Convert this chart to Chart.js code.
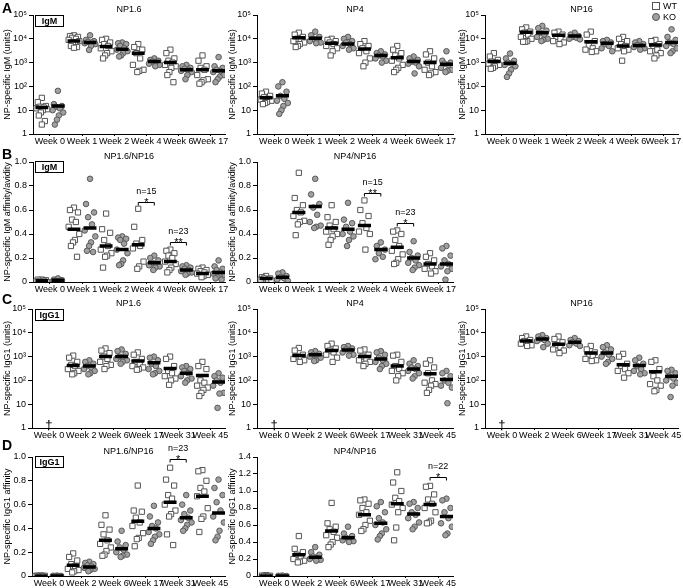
<!DOCTYPE html>
<html lang="en">
<head>
<meta charset="UTF-8">
<title>NP-specific IgM / IgG1</title>
<style>
    body { margin: 0; width: 683px; height: 588px; overflow: hidden; background: #fff; position: relative;
           font-family: "Liberation Sans", Arial, sans-serif; }
    canvas { position: absolute; }
    .letter { position: absolute; font-weight: bold; font-size: 14px; }
    .tag { position: absolute; border: 1px solid #000; font-weight: bold; font-size: 9px;
           width: 27px; height: 10px; line-height: 10px; text-align: center; }
    .leg { position: absolute; font-size: 9px; line-height: 9px; }
    .sq { position: absolute; width: 6px; height: 6px; border: 1px solid #555; background: #fff; }
    .ci { position: absolute; width: 6px; height: 6px; border: 1px solid #555; background: #a0a0a0; border-radius: 50%; }
</style>
<script src="https://cdn.jsdelivr.net/npm/chart.js"></script>
</head>
<body>
<div class="letter" style="left:2px;top:0px">A</div>
<div class="letter" style="left:2px;top:146px">B</div>
<div class="letter" style="left:2px;top:291px">C</div>
<div class="letter" style="left:2px;top:437px">D</div>
<div class="tag" style="left:35px;top:15px">IgM</div>
<div class="tag" style="left:35px;top:161px">IgM</div>
<div class="tag" style="left:35px;top:309px">IgG1</div>
<div class="tag" style="left:35px;top:456px">IgG1</div>
<div class="sq" style="left:652px;top:2px"></div><div class="leg" style="left:663px;top:2px">WT</div>
<div class="ci" style="left:652px;top:13px"></div><div class="leg" style="left:663px;top:13px">KO</div>

<script>
// week labels
const weeksIgM = ['Week 0', 'Week 1', 'Week 2', 'Week 4', 'Week 6', 'Week 17'];
const weeksIgG1 = ['Week 0', 'Week 2', 'Week 6', 'Week 17', 'Week 31', 'Week 45'];

// A - IgM NP1.6 (units)
const a1Wt = [[33, 22, 15, 14, 13, 12, 11, 10, 8, 6, 3.5, 2.5], [14000, 13000, 12000, 11000, 10000, 9000, 8000, 7000, 6000, 5000, 4500, 4200], [10000, 9000, 7000, 6000, 5000, 4000, 3000, 2500, 2000, 1500], [6000, 4500, 3500, 2500, 1500, 800, 500, 450, 400], [3500, 2500, 1500, 1200, 1000, 800, 700, 600, 400, 300, 150], [2000, 1200, 700, 600, 500, 300, 200, 180, 150, 130]];
const a1Ko = [[65, 18, 15, 14, 12, 10, 8, 6, 4, 2.5], [14000, 9000, 8000, 7500, 7000, 6500, 6000, 5000, 3400], [7000, 6500, 6000, 5000, 4000, 3500, 3000, 2500, 2000, 1800], [1500, 1300, 1200, 1100, 1000, 900, 800, 700], [800, 700, 600, 550, 500, 450, 400, 300, 200], [1700, 700, 600, 500, 450, 400, 300, 250, 200, 150]];
const a1WtMed = [13, 8000, 4700, 2500, 1000, 500];
const a1KoMed = [15, 7000, 3600, 1100, 500, 450];

// A - IgM NP4
const a2Wt = [[60, 50, 40, 35, 30, 28, 25, 22, 20, 18], [18000, 15000, 12000, 10000, 9000, 8000, 7000, 6000, 5000, 4500], [10000, 9000, 8000, 7000, 6000, 5000, 4000, 3000, 2000], [8000, 6000, 5000, 4000, 3000, 2500, 1500, 1000, 700], [5000, 3500, 2500, 2000, 1500, 1200, 800, 600, 500, 400], [3000, 2200, 1500, 1000, 700, 500, 400, 350, 300]];
const a2Ko = [[150, 100, 60, 40, 30, 25, 20, 15, 10, 7], [20000, 14000, 12000, 10000, 9000, 8000, 7000, 6500], [12000, 10000, 8000, 7000, 6000, 5000, 4000, 3500], [3000, 2500, 2200, 2000, 1800, 1500, 1200, 1000], [1800, 1500, 1300, 1100, 1000, 900, 700, 350], [3000, 1200, 1000, 900, 800, 600, 500, 450, 400]];
const a2WtMed = [33, 11000, 6500, 3700, 1600, 1000];
const a2KoMed = [40, 10500, 6000, 2000, 1100, 850];

// A - IgM NP16
const a3Wt = [[2500, 1800, 1300, 1100, 1000, 900, 800, 700, 600, 550], [30000, 25000, 20000, 18000, 15000, 12000, 10000, 8000, 7500, 7500], [20000, 18000, 15000, 12000, 10000, 8000, 7000, 6000], [20000, 15000, 8000, 5000, 4000, 3500, 3000, 2800], [12000, 10000, 8000, 6000, 5000, 4000, 3500, 3000, 1200], [9000, 8000, 6000, 5000, 3500, 3000, 2500, 2000, 1500]];
const a3Ko = [[2400, 1500, 1200, 1000, 900, 800, 700, 500, 350, 250], [35000, 28000, 22000, 18000, 15000, 12000, 10000, 9000, 8000], [18000, 15000, 13000, 12000, 11000, 10000, 9500], [9000, 8000, 7000, 6000, 5000, 4000, 3000], [8000, 7000, 6000, 5500, 5000, 4500, 4000, 3500], [25000, 12000, 9000, 7000, 6000, 5000, 4000, 3000, 2500]];
const a3WtMed = [1100, 19000, 14000, 7500, 5000, 5500];
const a3KoMed = [950, 18000, 13000, 6500, 5200, 7000];

// B - IgM affinity NP1.6/NP16
const b1Wt = [[0.02, 0.02, 0.015, 0.01, 0.01, 0.005, 0, 0], [0.62, 0.60, 0.58, 0.52, 0.50, 0.46, 0.40, 0.35, 0.33, 0.30, 0.21], [0.57, 0.44, 0.41, 0.35, 0.30, 0.27, 0.24, 0.22, 0.21, 0.12], [0.61, 0.46, 0.35, 0.32, 0.30, 0.28, 0.17, 0.13, 0.11], [0.27, 0.26, 0.24, 0.22, 0.20, 0.17, 0.15, 0.12, 0.10, 0.08], [0.12, 0.11, 0.10, 0.09, 0.08, 0.07, 0.06, 0.05, 0.04]];
const b1Ko = [[0.03, 0.02, 0.015, 0.01, 0.01, 0.005], [0.86, 0.65, 0.58, 0.54, 0.48, 0.43, 0.38, 0.33, 0.30, 0.26, 0.25], [0.38, 0.37, 0.36, 0.35, 0.32, 0.27, 0.24, 0.18, 0.15, 0.14], [0.22, 0.20, 0.18, 0.16, 0.15, 0.14, 0.13, 0.12, 0.10], [0.14, 0.13, 0.12, 0.11, 0.10, 0.09, 0.08, 0.07, 0.06], [0.18, 0.13, 0.11, 0.10, 0.08, 0.07, 0.06, 0.05, 0.04, 0.03, 0.02]];
const b1WtMed = [0.01, 0.44, 0.30, 0.31, 0.17, 0.07];
const b1KoMed = [0.015, 0.45, 0.27, 0.16, 0.10, 0.08];
const b1Sig = [{ week: 3, y: 0.67, n: 'n=15', stars: '*' }, { week: 4, y: 0.335, n: 'n=23', stars: '**' }];

// B - IgM affinity NP4/NP16
const b2Wt = [[0.05, 0.04, 0.03, 0.03, 0.02, 0.02, 0.01], [0.91, 0.70, 0.64, 0.60, 0.58, 0.55, 0.51, 0.50, 0.48, 0.39], [0.64, 0.54, 0.50, 0.47, 0.44, 0.42, 0.40, 0.38, 0.35, 0.31], [0.68, 0.60, 0.55, 0.49, 0.45, 0.42, 0.40, 0.27], [0.43, 0.42, 0.40, 0.35, 0.30, 0.26, 0.23, 0.19, 0.16, 0.15], [0.24, 0.21, 0.18, 0.15, 0.13, 0.11, 0.09, 0.07]];
const b2Ko = [[0.08, 0.07, 0.05, 0.04, 0.03, 0.02, 0.01], [0.86, 0.73, 0.65, 0.62, 0.56, 0.50, 0.47, 0.46, 0.45], [0.66, 0.52, 0.49, 0.46, 0.42, 0.40, 0.38, 0.35, 0.30], [0.33, 0.30, 0.27, 0.24, 0.21, 0.19], [0.34, 0.25, 0.22, 0.20, 0.18, 0.16, 0.14, 0.12, 0.10], [0.30, 0.28, 0.22, 0.18, 0.15, 0.13, 0.11, 0.09, 0.02]];
const b2WtMed = [0.03, 0.58, 0.45, 0.47, 0.29, 0.15];
const b2KoMed = [0.04, 0.63, 0.44, 0.27, 0.20, 0.15];
const b2Sig = [{ week: 3, y: 0.745, n: 'n=15', stars: '**' }, { week: 4, y: 0.49, n: 'n=23', stars: '*' }];

// C - IgG1 NP1.6 (no week 0 data)
const c1Wt = [[], [1100, 900, 600, 450, 400, 300, 250, 200, 180], [2200, 1800, 1400, 1000, 800, 600, 450, 400, 300], [1500, 1200, 800, 600, 500, 400, 350, 300, 280], [1000, 800, 400, 250, 200, 150, 120, 100, 65], [600, 400, 300, 100, 80, 60, 50, 40, 30, 22]];
const c1Ko = [[], [700, 600, 500, 400, 350, 300, 250, 200, 180], [2000, 1700, 1300, 1000, 900, 800, 700, 600, 500], [1000, 900, 700, 500, 400, 300, 250, 200, 180], [400, 350, 300, 250, 200, 150, 120, 100, 80], [200, 150, 130, 100, 80, 60, 30, 28, 7]];
const c1WtMed = [null, 420, 1000, 650, 320, 160];
const c1KoMed = [null, 400, 1000, 550, 200, 85];

// C - IgG1 NP4
const c2Wt = [[], [2300, 1800, 1200, 1000, 900, 800, 700, 600], [3500, 2800, 2200, 1800, 1500, 1200, 900, 600], [2000, 1800, 1200, 1000, 800, 700, 600, 500, 400], [1200, 1100, 600, 400, 300, 250, 200, 150, 100], [700, 500, 350, 200, 100, 80, 70, 60, 40, 30]];
const c2Ko = [[], [1700, 1500, 1300, 1200, 1100, 1000, 900, 700, 650], [2800, 2500, 2200, 2000, 1800, 1500, 1200, 1100], [1700, 1500, 1200, 900, 700, 600, 500, 400, 300], [700, 500, 400, 350, 300, 250, 200, 150, 120], [250, 200, 150, 100, 80, 60, 50, 11]];
const c2WtMed = [null, 1100, 1800, 1000, 400, 190];
const c2KoMed = [null, 1200, 1900, 800, 300, 110];

// C - IgG1 NP16
const c3Wt = [[], [7000, 6000, 5000, 4500, 4000, 3500, 3000, 2800], [7000, 5500, 4000, 3000, 2500, 2000, 1800, 1400], [2800, 2000, 1500, 1200, 1000, 800, 700, 650], [1300, 1000, 500, 400, 300, 250, 200, 130], [700, 600, 300, 150, 100, 70, 60, 40, 35]];
const c3Ko = [[], [8000, 7000, 6000, 5500, 5000, 4500, 3500, 2500], [6000, 5000, 4500, 4000, 3500, 3000, 2800], [3000, 2500, 2000, 1500, 1200, 1000, 800, 600, 500], [900, 700, 500, 400, 300, 250, 200, 180], [280, 250, 200, 150, 120, 100, 80, 60, 20]];
const c3WtMed = [null, 4500, 3300, 1400, 450, 230];
const c3KoMed = [null, 5500, 4000, 1400, 420, 150];

// D - IgG1 affinity NP1.6/NP16
const d1Wt = [[0.005, 0.003, 0.002, 0, 0, 0], [0.19, 0.16, 0.13, 0.10, 0.08, 0.06, 0.05, 0.04, 0.03], [0.51, 0.43, 0.39, 0.35, 0.30, 0.27, 0.24, 0.21, 0.18, 0.17], [0.76, 0.55, 0.54, 0.49, 0.45, 0.42, 0.36, 0.32, 0.31, 0.25], [0.91, 0.81, 0.76, 0.68, 0.65, 0.60, 0.55, 0.52, 0.50, 0.35, 0.26], [0.89, 0.88, 0.80, 0.74, 0.71, 0.67, 0.57, 0.50, 0.48, 0.37]];
const d1Ko = [[0.003, 0.002, 0.001, 0, 0], [0.12, 0.11, 0.10, 0.09, 0.08, 0.07, 0.06, 0.05, 0.04], [0.38, 0.29, 0.26, 0.24, 0.22, 0.20, 0.18, 0.17, 0.16], [0.59, 0.50, 0.45, 0.42, 0.40, 0.37, 0.35, 0.33, 0.30, 0.27], [0.68, 0.60, 0.55, 0.52, 0.49, 0.47, 0.45, 0.43, 0.40, 0.38], [0.81, 0.74, 0.68, 0.62, 0.55, 0.50, 0.45, 0.38, 0.33, 0.30]];
const d1WtMed = [0, 0.09, 0.30, 0.46, 0.62, 0.67];
const d1KoMed = [0, 0.075, 0.23, 0.40, 0.49, 0.53];
const d1Sig = [{ week: 4, y: 0.98, n: 'n=23', stars: '*' }];

// D - IgG1 affinity NP4/NP16
const d2Wt = [[0.01, 0.005, 0.003, 0, 0], [0.47, 0.32, 0.28, 0.25, 0.22, 0.20, 0.18, 0.17, 0.16], [0.86, 0.62, 0.58, 0.55, 0.52, 0.48, 0.45, 0.40, 0.37, 0.34], [0.90, 0.89, 0.85, 0.80, 0.75, 0.72, 0.65, 0.60, 0.55, 0.53], [1.22, 1.10, 1.00, 0.92, 0.88, 0.84, 0.80, 0.75, 0.57, 0.42], [1.06, 1.05, 0.96, 0.90, 0.85, 0.80, 0.75, 0.65, 0.63, 0.62]];
const d2Ko = [[0.005, 0.002, 0, 0], [0.34, 0.28, 0.25, 0.23, 0.21, 0.20, 0.19, 0.18], [0.58, 0.50, 0.47, 0.45, 0.43, 0.42, 0.41, 0.40], [0.87, 0.82, 0.75, 0.68, 0.63, 0.60, 0.55, 0.50, 0.47, 0.43], [0.87, 0.85, 0.80, 0.75, 0.72, 0.68, 0.63, 0.58, 0.55], [0.91, 0.89, 0.80, 0.75, 0.68, 0.62, 0.58, 0.50, 0.48]];
const d2WtMed = [0, 0.25, 0.53, 0.72, 0.85, 0.84];
const d2KoMed = [0, 0.22, 0.45, 0.62, 0.73, 0.70];
const d2Sig = [{ week: 5, y: 1.16, n: 'n=22', stars: '*' }];

// horizontal spread of points inside a column (in column units)
const jitter = [0, -0.25, 0.25, -0.12, 0.12, -0.33, 0.33, 0.06, -0.06, -0.19, 0.19, 0];

const FONT = '"Liberation Sans", Arial, sans-serif';
Chart.defaults.font.family = FONT;
Chart.defaults.font.size = 9;
Chart.defaults.color = '#000';

const panels = [
    { left: 0, top: 0, w: 230, yw: 33, ph: 119, title: 'NP1.6', yTitle: 'NP-specific IgM (units)', log: true, weeks: weeksIgM, wt: a1Wt, ko: a1Ko, wtMed: a1WtMed, koMed: a1KoMed },
    { left: 225, top: 0, w: 233, yw: 32, ph: 119, title: 'NP4', yTitle: 'NP-specific IgM (units)', log: true, weeks: weeksIgM, wt: a2Wt, ko: a2Ko, wtMed: a2WtMed, koMed: a2KoMed },
    { left: 455, top: 0, w: 228, yw: 30, ph: 119, title: 'NP16', yTitle: 'NP-specific IgM (units)', log: true, weeks: weeksIgM, wt: a3Wt, ko: a3Ko, wtMed: a3WtMed, koMed: a3KoMed },
    { left: 0, top: 147, w: 230, yw: 33, ph: 120, title: 'NP1.6/NP16', yTitle: 'NP-specific IgM affinity/avidity', max: 1.0, weeks: weeksIgM, wt: b1Wt, ko: b1Ko, wtMed: b1WtMed, koMed: b1KoMed, sig: b1Sig },
    { left: 225, top: 147, w: 233, yw: 32, ph: 120, title: 'NP4/NP16', yTitle: 'NP-specific IgM affinity/avidity', max: 1.0, weeks: weeksIgM, wt: b2Wt, ko: b2Ko, wtMed: b2WtMed, koMed: b2KoMed, sig: b2Sig },
    { left: 0, top: 294, w: 230, yw: 32, ph: 119, title: 'NP1.6', yTitle: 'NP-specific IgG1 (units)', log: true, dagger: true, weeks: weeksIgG1, wt: c1Wt, ko: c1Ko, wtMed: c1WtMed, koMed: c1KoMed },
    { left: 225, top: 294, w: 233, yw: 32, ph: 119, title: 'NP4', yTitle: 'NP-specific IgG1 (units)', log: true, dagger: true, weeks: weeksIgG1, wt: c2Wt, ko: c2Ko, wtMed: c2WtMed, koMed: c2KoMed },
    { left: 455, top: 294, w: 228, yw: 30, ph: 119, title: 'NP16', yTitle: 'NP-specific IgG1 (units)', log: true, dagger: true, weeks: weeksIgG1, wt: c3Wt, ko: c3Ko, wtMed: c3WtMed, koMed: c3KoMed },
    { left: 0, top: 442, w: 230, yw: 32, ph: 119, title: 'NP1.6/NP16', yTitle: 'NP-specific IgG1 affinity', max: 1.0, weeks: weeksIgG1, wt: d1Wt, ko: d1Ko, wtMed: d1WtMed, koMed: d1KoMed, sig: d1Sig },
    { left: 225, top: 442, w: 233, yw: 32, ph: 119, title: 'NP4/NP16', yTitle: 'NP-specific IgG1 affinity', max: 1.4, weeks: weeksIgG1, wt: d2Wt, ko: d2Ko, wtMed: d2WtMed, koMed: d2KoMed, sig: d2Sig }
];

const supers = { 2: '\u00b2', 3: '\u00b3', 4: '\u2074', 5: '\u2075' };

function toPoints(groups, col) {
    const pts = [];
    groups.forEach((vals, w) => {
        vals.forEach((v, i) => pts.push({ x: 2 * w + col + jitter[i % jitter.length], y: v }));
    });
    return pts;
}

function medianSegs(meds, col, out) {
    meds.forEach((m, w) => {
        if (m === null) return;
        const xc = 2 * w + col;
        out.push({ x: xc - 0.4, y: m }, { x: xc + 0.4, y: m }, { x: xc + 0.5, y: null });
    });
    return out;
}

// title, dagger and significance brackets
const panelDeco = {
    id: 'panelDeco',
    afterDraw(chart, args, opts) {
        const { ctx, chartArea } = chart;
        const xs = chart.scales.x, ys = chart.scales.y;
        ctx.save();
        ctx.fillStyle = '#000';
        ctx.strokeStyle = '#000';
        ctx.textAlign = 'center';
        ctx.font = '9px ' + FONT;
        ctx.textBaseline = 'middle';
        ctx.fillText(opts.title, (chartArea.left + chartArea.right) / 2, chartArea.top - 5);
        if (opts.dagger) {
            ctx.font = '13px ' + FONT;
            ctx.textBaseline = 'alphabetic';
            ctx.fillText('\u2020', xs.getPixelForValue(0.5), chartArea.bottom + 1);
        }
        (opts.sig || []).forEach(s => {
            const x1 = xs.getPixelForValue(2 * s.week);
            const x2 = xs.getPixelForValue(2 * s.week + 1);
            const yy = Math.round(ys.getPixelForValue(s.y)) + 0.5;
            ctx.lineWidth = 1;
            ctx.beginPath();
            ctx.moveTo(x1, yy + 3);
            ctx.lineTo(x1, yy);
            ctx.lineTo(x2, yy);
            ctx.lineTo(x2, yy + 3);
            ctx.stroke();
            ctx.font = '11px ' + FONT;
            ctx.textBaseline = 'alphabetic';
            ctx.fillText(s.stars, (x1 + x2) / 2, yy + 3);
            ctx.font = '9px ' + FONT;
            ctx.textBaseline = 'middle';
            ctx.fillText(s.n, (x1 + x2) / 2, yy - 11);
        });
        ctx.restore();
    }
};

panels.forEach((p, idx) => {
    const h = 15 + p.ph + 13;
    const cv = document.createElement('canvas');
    cv.width = p.w;
    cv.height = h;
    cv.style.left = p.left + 'px';
    cv.style.top = p.top + 'px';
    document.body.insertBefore(cv, document.body.firstChild);

    const meds = [];
    medianSegs(p.wtMed, 0, meds);
    medianSegs(p.koMed, 1, meds);

    const yScale = p.log ? {
        type: 'logarithmic', min: 1, max: 100000,
        afterBuildTicks: s => { s.ticks = [1, 10, 100, 1000, 10000, 100000].map(v => ({ value: v })); },
        ticks: {
            padding: 2, autoSkip: false,
            callback: v => v === 1 ? '1' : (v === 10 ? '10' : '10' + supers[Math.round(Math.log10(v))])
        }
    } : {
        type: 'linear', min: 0, max: p.max,
        ticks: { stepSize: 0.2, padding: 2, callback: v => v === 0 ? '0' : v.toFixed(1) }
    };
    Object.assign(yScale, {
        afterFit: s => { s.width = p.yw; },
        grid: { display: true, drawOnChartArea: false, drawTicks: true, tickLength: 4, color: '#000' },
        border: { display: true, color: '#000', width: 1 },
        title: { display: true, text: p.yTitle, padding: { top: 2, bottom: 0 }, font: { size: 9 } }
    });

    new Chart(cv.getContext('2d'), {
        type: 'scatter',
        data: {
            datasets: [
                { data: meds, showLine: true, pointRadius: 0, borderColor: '#000', borderWidth: 3.5, spanGaps: false, order: 0 },
                { data: toPoints(p.wt, 0), pointStyle: 'rect', pointRadius: 3.7, backgroundColor: '#fff', borderColor: '#555', borderWidth: 1, order: 1 },
                { data: toPoints(p.ko, 1), pointStyle: 'circle', pointRadius: 2.8, backgroundColor: '#a0a0a0', borderColor: '#5a5a5a', borderWidth: 1, order: 2 }
            ]
        },
        options: {
            responsive: false,
            devicePixelRatio: 1,
            animation: false,
            layout: { padding: { top: 15, right: 3, left: 0, bottom: 0 } },
            plugins: {
                legend: { display: false },
                tooltip: { enabled: false },
                panelDeco: { title: p.title, dagger: p.dagger, sig: p.sig }
            },
            scales: {
                x: {
                    type: 'linear', min: -0.55, max: 11.4,
                    afterBuildTicks: s => { s.ticks = p.weeks.map((w, i) => ({ value: 2 * i + 0.5 })); },
                    afterFit: s => { s.height = 13; },
                    ticks: { autoSkip: false, maxRotation: 0, padding: 0, callback: v => p.weeks[Math.round((v - 0.5) / 2)] },
                    grid: { display: true, drawOnChartArea: false, drawTicks: true, tickLength: 2, color: '#000' },
                    border: { display: true, color: '#000', width: 1 }
                },
                y: yScale
            }
        },
        plugins: [panelDeco]
    });
});
</script>
</body>
</html>
